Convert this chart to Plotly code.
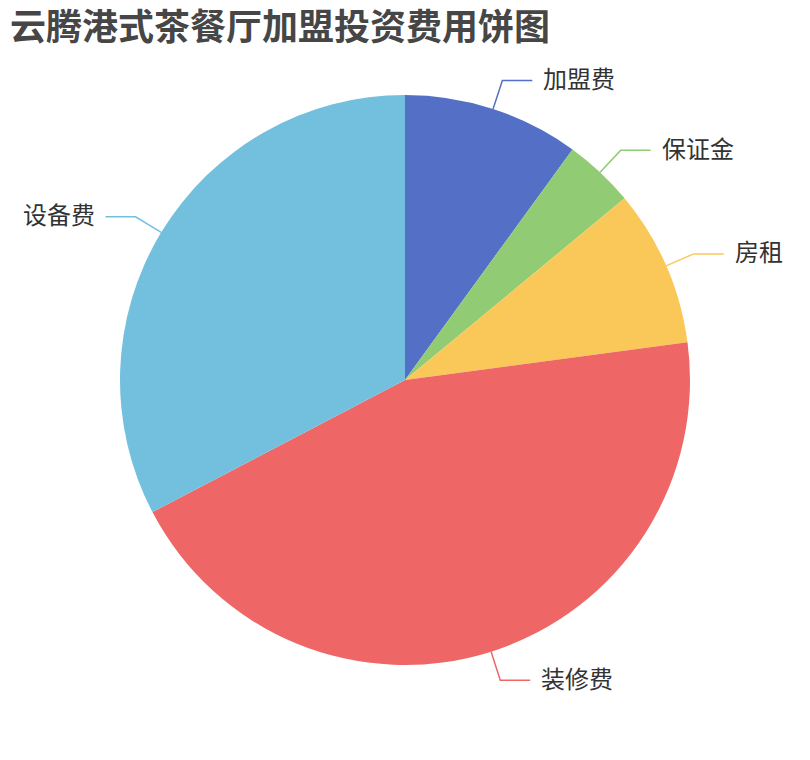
import math
import plotly.graph_objects as go

# 投资费用（万元）
labels = ["加盟费", "保证金", "房租", "装修费", "设备费"]
values = [4.5, 1.8, 4.0, 20.0, 14.7]
colors = ["#5470c6", "#91cc75", "#fac858", "#ee6666", "#73c0de"]

W, H = 810, 760
off = 8  # page body margin
cx, cy, r = 405 - off, 380 - off, 285  # pie centre / radius in pixels
len1, len2, gap = 30, 30, 9

fig = go.Figure(go.Pie(
    labels=labels,
    values=values,
    marker=dict(colors=colors, line=dict(width=0)),
    sort=False,
    direction="clockwise",
    rotation=0,
    textinfo="none",
    hoverinfo="label+value+percent",
    domain=dict(x=[(cx - r) / W, (cx + r) / W], y=[(H - cy - r) / H, (H - cy + r) / H]),
    showlegend=False,
))

def to_paper(px, py):
    return px / W, 1 - py / H

total = sum(values)
acc = 0
shapes, annotations = [], []
for lab, val, col in zip(labels, values, colors):
    mid = (acc + val / 2) / total * 2 * math.pi
    acc += val
    s, c = math.sin(mid), math.cos(mid)
    x0, y0 = cx + r * s, cy - r * c
    x1, y1 = cx + (r + len1) * s, cy - (r + len1) * c
    side = 1 if s >= 0 else -1
    x2 = x1 + side * len2
    p0, p1, p2 = to_paper(x0, y0), to_paper(x1, y1), to_paper(x2, y1)
    shapes.append(dict(
        type="path", xref="paper", yref="paper",
        path=f"M {p0[0]},{p0[1]} L {p1[0]},{p1[1]} L {p2[0]},{p2[1]}",
        line=dict(color=col, width=1.5),
    ))
    tx, ty = to_paper(x2 + side * gap, y1 - 3)
    annotations.append(dict(
        x=tx, y=ty, xref="paper", yref="paper", text=lab, showarrow=False,
        xanchor="left" if side > 0 else "right", yanchor="middle",
        font=dict(size=24, color="#333333"),
    ))

fig.update_layout(
    width=W, height=H,
    margin=dict(l=0, r=0, t=0, b=0),
    paper_bgcolor="white",
    font=dict(family="Noto Sans CJK SC"),
    title=dict(
        text="<b>云腾港式茶餐厅加盟投资费用饼图</b>",
        x=(10 - off) / W, xanchor="left", y=1 - (27 - off) / H, yanchor="middle",
        font=dict(size=36, color="#464646"),
    ),
    shapes=shapes,
    annotations=annotations,
)

fig.write_html("out.html")
